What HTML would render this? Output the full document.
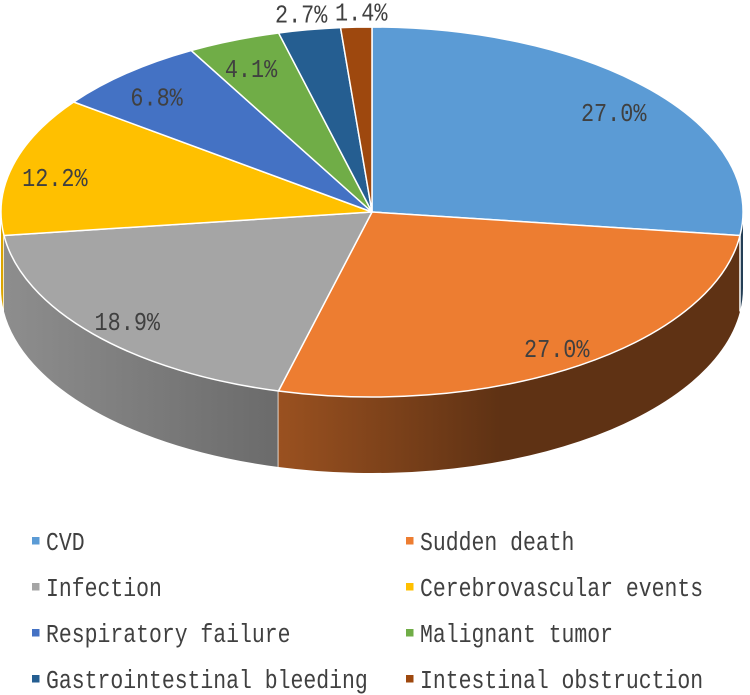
<!DOCTYPE html>
<html lang="en">
<head>
<meta charset="utf-8">
<title>Causes of death pie chart</title>
<style>
html,body{margin:0;padding:0;background:#fff;width:750px;height:695px;overflow:hidden}
svg{display:block}
text{font-family:"Liberation Mono","Noto Serif CJK SC",monospace;fill:#404040;font-size:26px}
</style>
</head>
<body>
<svg id="chart" xmlns="http://www.w3.org/2000/svg" width="750" height="695" viewBox="0 0 750 695">
<rect width="750" height="695" fill="#fff"/>
<defs id="defs"></defs>
<g id="sides"></g>
<g id="tops"></g>
<g id="labels"></g>
<g id="legend"></g>
</svg>
<script>
const categories = ["CVD","Sudden death","Infection","Cerebrovascular events","Respiratory failure","Malignant tumor","Gastrointestinal bleeding","Intestinal obstruction"];
const percentValues = [27.03,27.03,18.92,12.16,6.76,4.054,2.70,1.351];
const sliceColors = ["#5B9BD5","#ED7D31","#A5A5A5","#FFC000","#4472C4","#70AD47","#255E91","#9E480E"];
const labelNudges = [[-2,8],[3,3],[-1,3],[-3,7],[-1,7],[0,7],[-16,-38],[3,-38]];

const NS = "http://www.w3.org/2000/svg";
const cx = 372, cy = 212, rx = 371, ry = 185, depth = 76;
const total = percentValues.reduce((a,b)=>a+b,0);
const xAt = d => cx + rx*Math.sin(d*Math.PI/180);
const yAt = d => cy - ry*Math.cos(d*Math.PI/180);
const make = (tag, attrs, parent) => {
  const el = document.createElementNS(NS, tag);
  for (const k in attrs) el.setAttribute(k, attrs[k]);
  parent.appendChild(el);
  return el;
};
const shade = (hex, f) => {
  const n = parseInt(hex.slice(1),16);
  const c = s => Math.round(((n>>s)&255)*f);
  return `rgb(${c(16)},${c(8)},${c(0)})`;
};
const shadeStops = [[0,0.86],[278/750,0.65],[500/750,0.40],[1,0.40]];

let acc = 0;
const slices = percentValues.map((v,i)=>{
  const a1 = acc/total*360; acc += v;
  const a2 = acc/total*360;
  return {i,v,a1,a2,mid:(a1+a2)/2};
});

const defs = document.getElementById("defs");
const sides = document.getElementById("sides");
const tops = document.getElementById("tops");
const labels = document.getElementById("labels");
const legend = document.getElementById("legend");

slices.forEach(s=>{
  const g = make("linearGradient",{id:"side"+s.i,gradientUnits:"userSpaceOnUse",x1:0,y1:0,x2:750,y2:0},defs);
  shadeStops.forEach(st=>make("stop",{offset:st[0],"stop-color":shade(sliceColors[s.i],st[1])},g));
});

// side walls: only the part of each slice on the front half of the ellipse
[...slices].sort((a,b)=>Math.abs(b.mid-180)-Math.abs(a.mid-180)).forEach(s=>{
  const a = Math.max(s.a1,90), b = Math.min(s.a2,270);
  if (b <= a) return;
  const large = b-a > 180 ? 1 : 0;
  const d = `M${xAt(a)} ${yAt(a)}A${rx} ${ry} 0 ${large} 1 ${xAt(b)} ${yAt(b)}L${xAt(b)} ${yAt(b)+depth}A${rx} ${ry} 0 ${large} 0 ${xAt(a)} ${yAt(a)+depth}Z`;
  const p = make("path",{d,fill:`url(#side${s.i})`,stroke:"none"},sides);
  
  
  const inner = a > 90 && a < 270;
  if (inner) {
    const e = make("line",{x1:xAt(a),y1:yAt(a),x2:xAt(a),y2:yAt(a)+depth,stroke:"#fff","stroke-width":1.5},sides);
    
    
  }
});

slices.forEach(s=>{
  const large = s.a2-s.a1 > 180 ? 1 : 0;
  const d = `M${cx} ${cy}L${xAt(s.a1)} ${yAt(s.a1)}A${rx} ${ry} 0 ${large} 1 ${xAt(s.a2)} ${yAt(s.a2)}Z`;
  const p = make("path",{d,fill:sliceColors[s.i],stroke:"#fff","stroke-width":1.5,"stroke-linejoin":"round"},tops);
  
  
});

slices.forEach(s=>{
  const f = 0.875;
  const x = cx + rx*f*Math.sin(s.mid*Math.PI/180) + labelNudges[s.i][0];
  const y = cy - ry*f*Math.cos(s.mid*Math.PI/180) + labelNudges[s.i][1];
  const t = make("text",{transform:`translate(${x} ${y+8}) scale(.84 1)`,"text-anchor":"middle"},labels);
  t.textContent = s.v.toFixed(1)+"%";
  
  
});

categories.forEach((c,i)=>{
  const col = i%2, row = Math.floor(i/2);
  const g = make("g",{},legend);
  
  
  const lx = 32 + col*374, ly = 537 + row*46;
  const m = make("rect",{x:lx,y:ly,width:7.5,height:7.5,fill:sliceColors[i]},g);
  
  
  const t = make("text",{transform:`translate(${lx+14} ${ly+13}) scale(.825 1)`},g);
  t.textContent = c;
  
  
});
</script>
</body>
</html>
